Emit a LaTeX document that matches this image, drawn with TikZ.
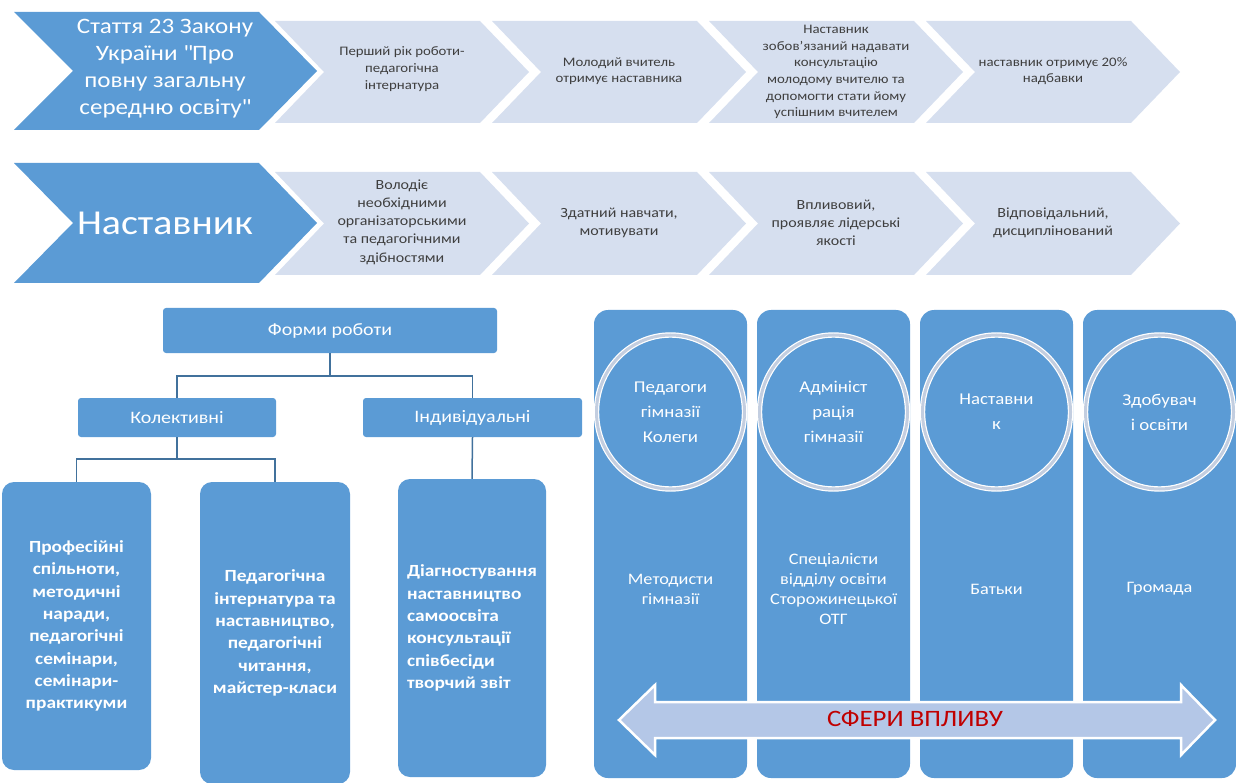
\documentclass[tikz,border=0pt]{standalone}
\usepackage{fontspec}
\setmainfont{Carlito}[FakeStretch=1.14]
\usetikzlibrary{shapes.geometric}

\definecolor{boxblue}{HTML}{5B9BD5}
\definecolor{chevgrey}{HTML}{D6DFEF}
\definecolor{linkblue}{HTML}{41719C}
\definecolor{arrowblue}{HTML}{B4C7E7}
\definecolor{ringgrey}{HTML}{C3CEE0}
\definecolor{textgrey}{HTML}{3F3F3F}
\definecolor{sferared}{HTML}{C00000}

\begin{document}
\begin{tikzpicture}[x=1pt,y=-1pt,
    bigtext/.style={text=white, align=center, font=\fontsize{22}{27}\selectfont},
    chevtext/.style={text=textgrey, align=center, font=\fontsize{13}{16.6}\selectfont},
    formbox/.style={fill=boxblue, rounded corners=3pt, text=white, inner sep=0pt,
      font=\fontsize{17.5}{20}\selectfont},
    tallbox/.style={fill=boxblue, rounded corners=12pt, text=white, inner sep=0pt,
      align=center, font=\bfseries\fontsize{17}{22.3}\selectfont},
    link/.style={draw=linkblue, line width=1.5pt},
    column/.style={fill=boxblue, rounded corners=14pt, inner sep=0pt},
    sphere/.style={ellipse, fill=boxblue, draw=white, line width=1.2pt, double=ringgrey,
      double distance=3pt, minimum width=148pt, minimum height=154pt, inner sep=0pt,
      text=white, align=center, font=\fontsize{16.5}{25}\selectfont},
    coltext/.style={text=white, align=center, font=\fontsize{16}{20}\selectfont}]

    \useasboundingbox (0,0) rectangle (1236,783);

    % Big chevrons on the left
    \foreach \ya/\yb in {12/130, 163/283} {
      \pgfmathsetmacro\ym{(\ya+\yb)/2}
      \fill[boxblue] (14,\ya) -- (259,\ya) -- (317,\ym) -- (259,\yb)
        -- (14,\yb) -- (73,\ym) -- cycle;
    }

    % Light chevrons, two rows of four
    \foreach \ya/\yb in {21/123, 172/275} {
      \pgfmathsetmacro\ym{(\ya+\yb)/2}
      \foreach \c in {1,...,4} {
        \pgfmathsetmacro\L{275 + (\c-1)*217}
        \fill[chevgrey] (\L,\ya) -- (\L+205,\ya) -- (\L+254,\ym) -- (\L+205,\yb)
          -- (\L,\yb) -- (\L+49,\ym) -- cycle;
      }
    }

    \node[bigtext] (law) at (165,69) {Стаття 23 Закону\\України \textquotedbl Про\\повну загальну\\середню освіту\textquotedbl};
    \node[bigtext, font=\fontsize{35}{40}\selectfont] (mentor) at (165,223) {Наставник};

    % First row
    \node[chevtext] (year)   at (402,69) {Перший рік роботи-\\педагогічна\\інтернатура};
    \node[chevtext] (young)  at (619,71) {Молодий вчитель\\отримує наставника};
    \node[chevtext] (duty)   at (836,72) {Наставник\\зобов’язаний надавати\\консультацію\\молодому вчителю та\\допомогти стати йому\\успішним вчителем};
    \node[chevtext] (bonus)  at (1053,71) {наставник отримує 20\%\\надбавки};

    % Second row
    \node[chevtext, font=\fontsize{14}{18.2}\selectfont] (skills) at (402,222) {Володіє\\необхідними\\організаторськими\\та педагогічними\\здібностями};
    \node[chevtext, font=\fontsize{14}{18.2}\selectfont] (teach)  at (619,223) {Здатний навчати,\\мотивувати};
    \node[chevtext, font=\fontsize{14}{18.2}\selectfont] (leader) at (836,223) {Впливовий,\\проявляє лідерські\\якості};
    \node[chevtext, font=\fontsize{14}{18.2}\selectfont] (duties) at (1053,223) {Відповідальний,\\дисциплінований};

    % Forms of work
    \node[formbox, minimum width=334pt, minimum height=45pt] (forms) at (330,330.5) {Форми роботи};
    \node[formbox, minimum width=198pt, minimum height=39pt] (koll)  at (177,417.5) {Колективні};
    \node[formbox, minimum width=219pt, minimum height=39pt] (indiv) at (472.5,417.5) {Індивідуальні};

    \node[tallbox, minimum width=149pt, minimum height=288pt] (profs)  at (76.5,626)
      {Професійні\\спільноти,\\методичні\\наради,\\педагогічні\\семінари,\\семінари-\\практикуми};
    \node[tallbox, minimum width=150pt, minimum height=302pt] (intern) at (275,633)
      {Педагогічна\\інтернатура та\\наставництво,\\педагогічні\\читання,\\майстер-класи};
    \node[tallbox, minimum width=148pt, minimum height=298pt, align=left] (diag) at (472,628)
      {Діагностування\\наставництво\\самоосвіта\\консультації\\співбесіди\\творчий звіт};

    \draw[link] (forms.south) -- ++(0,23) -| (koll.north);
    \draw[link] (forms.south) -- ++(0,23) -| (indiv.north);
    \draw[link] (koll.south) -- ++(0,22) -| (profs.north);
    \draw[link] (koll.south) -- ++(0,22) -| (intern.north);
    \draw[link] (indiv.south) -- (diag.north);

    % Spheres of influence
    \foreach \n/\up/\low in {
        1/Педагоги\\гімназії\\Колеги/Методисти\\гімназії,
        2/Адмініст\\рація\\гімназії/Спеціалісти\\відділу освіти\\Сторожинецької\\ОТГ,
        3/Наставни\\к/Батьки,
        4/Здобувач\\і освіти/Громада} {
      \pgfmathsetmacro\x{670.5 + (\n-1)*163}
      \node[column, minimum width=153pt, minimum height=468pt] (col\n) at (\x,544) {};
      \node[sphere] (circ\n) at (\x,412) {\up};
      \node[coltext] (grp\n) at (\x,589) {\low};
    }

    \fill[arrowblue, draw=white, line width=2.5pt] (619,720) -- (655,685) -- (655,702)
      -- (1181,702) -- (1181,685) -- (1215,720) -- (1181,755) -- (1181,738)
      -- (655,738) -- (655,755) -- cycle;
    \node[text=sferared, font=\fontsize{23.5}{26}\selectfont] (sfery) at (915,719) {СФЕРИ ВПЛИВУ};

  \end{tikzpicture}
\end{document}
